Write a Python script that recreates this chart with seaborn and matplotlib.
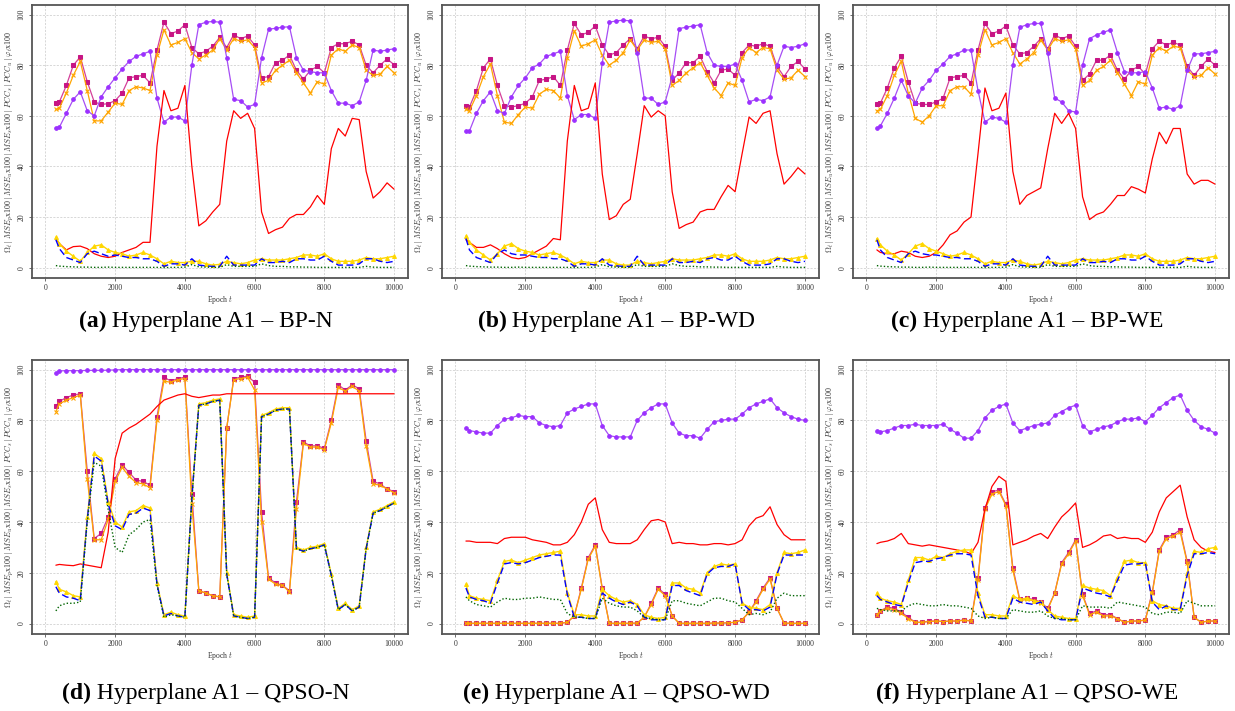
import numpy as np
import matplotlib
matplotlib.use("Agg")
import matplotlib.pyplot as plt
import seaborn as sns

# ---------------- data ----------------
epochs = [300] + list(range(400, 10001, 200))

# (a) BP-N
a_phi = [55.3, 55.5, 61, 66.5, 69.5, 62, 60, 67.5, 71.5, 75, 78.5, 81.5, 83.5, 84.5, 85.5, 67, 57.5, 59.5, 59.5, 58,
         80, 96, 97, 97.3, 97, 83, 66.5, 66, 63.5, 64.5, 83, 94.2, 94.6, 95, 95.2, 83, 78, 77.5, 77, 77,
         70, 65, 65, 64, 65.5, 74, 86, 85.5, 86, 86.5]
a_pcc_s = [65, 65.5, 72, 80, 83.3, 73.5, 65.5, 64.5, 64.8, 66, 69, 75, 75.5, 76, 73, 86, 97, 92.5, 93.5, 96,
           87, 84.5, 85.5, 87.5, 91, 87, 92, 90.5, 91.5, 88, 75, 75.5, 81, 82, 84, 78, 74.5, 78, 79.5, 77,
           87, 88.5, 88.5, 89.5, 88, 80, 77, 80, 82.5, 80.2]
a_pcc_u = [62.5, 63, 69, 76, 81.5, 70, 58, 58, 61.5, 65, 64.5, 70, 71.5, 71, 70, 84, 94, 88, 89, 90.5,
           85, 82.5, 84, 86, 90.5, 86, 90.5, 89.5, 90, 87, 73, 74, 78, 80, 82, 77, 73, 69, 73.5, 72.5,
           84, 86.5, 85.5, 88, 87, 78, 76, 76.5, 79.5, 77]
a_omega = [11.5, 9.5, 7, 8.3, 8.5, 7.5, 5.5, 4.5, 4, 4.5, 6, 7, 8, 10, 10, 48, 70, 62, 63, 72,
           40, 16.5, 18.5, 22, 25, 50, 62, 59, 61, 55, 22, 13.5, 15, 16, 19.5, 21, 21, 24, 28.5, 25,
           47, 55, 52, 59, 58.5, 38, 27.5, 30, 33.5, 31]
a_mse_t = [12, 9.5, 6.5, 4.5, 2.5, 6, 8.5, 9, 7, 6, 5.5, 4.5, 5, 6, 5, 3.5, 1.5, 2.5, 2, 2,
           2.5, 2.5, 1.5, 1, 1.3, 2.5, 2, 1.5, 2, 3, 3.5, 3, 3, 3, 3.5, 4, 5, 5, 4.5, 5.5,
           3.5, 2.5, 2.5, 2.5, 3, 4, 3.5, 3.5, 4, 4.5]
a_mse_u = [11, 7.5, 4, 3, 2, 5.5, 6.5, 5.5, 4.5, 5, 4.5, 4, 4, 3.5, 3.5, 2.5, 0.5, 1.5, 1.5, 1,
           3.5, 1, 0.7, 0.5, 0.5, 4.5, 1, 1, 1, 1, 3.5, 2, 2, 2.5, 2, 3.5, 3.5, 3, 3, 4.5,
           2.5, 1, 1, 1, 1.5, 3.5, 3.5, 2.5, 2, 2.5]
a_mse_p = [0.8, 0.6, 0.4, 0.3, 0.2, 0.2, 0.1, 0.1, 0.2, 0.1, 0.1, 0.1, 0.1, 0.1, 0.1, 0.1, 0, 0.1, 0.1, 0.2,
           1.2, 0.3, 0.2, 0.1, 0.1, 1.2, 0.5, 0.5, 0.5, 0.5, 1.5, 0.8, 0.5, 0.5, 0.3, 0.3, 0.2, 0.2, 0.1, 0.1,
           0.1, 0.1, 0.1, 0.1, 0.1, 0.5, 0.2, 0.1, 0.1, 0.1]

# (b) BP-WD
b_phi = [54, 54, 61, 66, 69.5, 62, 61, 67.5, 72, 75, 79, 80.5, 83.5, 84.5, 85.5, 68, 58.5, 60.5, 60.5, 59,
         81, 97, 97.5, 97.8, 97.5, 85, 67, 67, 64.5, 65.5, 75.5, 94.5, 95, 95.5, 96, 85, 80, 79.5, 79.5, 80.5,
         74, 65.5, 66.5, 66, 67.5, 80, 87.5, 87, 87.5, 88.5]
b_pcc_s = [64, 63.5, 70, 79, 82.5, 72, 64, 63.5, 64, 65, 67.5, 74, 74.5, 75.5, 72, 86, 96.5, 92, 93, 95.5,
           88, 84, 85, 88, 90.5, 86.5, 91.5, 90.5, 91, 87.5, 74, 77, 81, 81, 83.5, 77.5, 73, 78, 78.5, 76,
           85, 88, 87.5, 88.5, 87.5, 79.5, 75.5, 79.5, 81.5, 78.5]
b_pcc_u = [62.5, 62, 68, 75.5, 80.5, 68, 57.5, 57, 60.5, 63.5, 63, 68.5, 70.5, 70, 67, 83, 93.5, 87.5, 88.5, 90,
           84, 80, 82, 85, 90, 86, 90, 89, 89.5, 86.5, 72, 74, 77, 79, 81, 76, 71, 68, 73, 72,
           83, 87, 85, 87, 86.5, 78, 74.5, 75, 78, 75.5]
b_omega = [11, 10, 8, 8, 9, 7.5, 5.5, 4, 3.5, 4, 5.5, 7, 8.5, 11.5, 11, 50, 72, 62, 63, 73,
           37, 19, 20.5, 25, 27, 45, 64, 59.5, 62, 60, 30, 15.5, 17, 18, 22, 23, 23, 28, 32.5, 30,
           45, 59.5, 57, 61, 62, 45, 33, 36, 39.5, 37]
b_mse_t = [12.5, 10, 7, 5, 3, 5.5, 8.5, 9.5, 7.5, 6.5, 6, 5, 5.5, 6, 5, 3.5, 1.5, 2.5, 2, 2,
           3, 3, 1.5, 1, 1, 2.5, 2, 1.5, 2, 2.5, 3.5, 3, 3, 3, 3.5, 4, 5, 5, 4.5, 5.5,
           3.5, 2.5, 2.5, 2.5, 3, 4, 3.5, 3.5, 4, 4.5]
b_mse_u = [11.5, 7, 4, 3, 2, 5.5, 7, 5.5, 5, 5, 4.5, 4, 4, 3.5, 3.5, 2.5, 0.5, 1.5, 1.5, 1,
           3.5, 1, 0.7, 0.5, 0.5, 4.5, 1, 1, 1, 1, 3.5, 2, 2, 2.5, 2, 3.5, 4, 3, 3, 4.5,
           2.5, 1, 1, 1, 1.5, 3.5, 3.5, 2.5, 2, 2.5]
b_mse_p = [0.8, 0.6, 0.4, 0.3, 0.2, 0.2, 0.1, 0.1, 0.2, 0.1, 0.1, 0.1, 0.1, 0.1, 0.1, 0.1, 0, 0.1, 0.1, 0.2,
           1.2, 0.3, 0.2, 0.1, 0.1, 1.2, 0.5, 0.5, 0.5, 0.5, 1.5, 0.8, 0.5, 0.5, 0.3, 0.3, 0.2, 0.2, 0.1, 0.1,
           0.1, 0.1, 0.1, 0.1, 0.1, 0.5, 0.2, 0.1, 0.1, 0.1]

# (c) BP-WE
c_phi = [55, 56, 61, 67, 74, 68, 65, 71, 74, 78, 80.5, 83.5, 84.5, 86, 86, 70, 57.5, 59.5, 59, 57.5,
         80, 95, 96, 96.5, 96.5, 85, 67, 65.5, 62, 61.5, 80, 90.5, 92, 93, 94, 85, 77.5, 77, 77, 77.5,
         71, 63, 63.5, 62.5, 64, 78, 84.5, 84.5, 85, 85.5]
c_pcc_s = [64.5, 65, 71, 79, 83.5, 73.5, 65, 64.5, 64.5, 65.5, 67, 75, 75.5, 76, 73, 86, 96.5, 92.5, 93.5, 95.5,
           88, 84.5, 85, 87.5, 90.5, 86.5, 92, 90.5, 91.5, 87.5, 74, 76.5, 82, 82, 84, 78, 74.5, 78, 79.5, 76.5,
           86.5, 89.5, 88, 89, 88, 79.5, 76, 79.5, 82.5, 80]
c_pcc_u = [62, 62.5, 68, 76, 81.5, 69, 59, 57.5, 60, 64, 64, 70, 71.5, 71.5, 68.5, 84, 94, 88, 89, 90.5,
           85, 80.5, 82.5, 85, 90, 86, 90.5, 89.5, 90, 86.5, 72, 74, 78, 79.5, 82, 77, 72.5, 68, 73.5, 72.5,
           84, 87, 85.5, 87.5, 87, 78, 75.5, 76, 79, 76.5]
c_omega = [7, 6, 5.5, 5.5, 6.5, 6, 4.5, 4, 4.5, 6, 9, 13, 14.5, 18, 20, 45, 71, 62, 63, 69,
           38, 25, 28.5, 30, 31.5, 47, 61, 57, 61, 55, 28, 19, 21, 22, 25, 28.5, 28.5, 32, 31, 29.5,
           43, 53.5, 49, 55, 55, 37, 33, 34.5, 34.5, 33]
c_mse_t = [11.5, 9, 6.5, 5, 3, 5.5, 8.5, 9.5, 7.5, 6.5, 5.5, 4.5, 5, 6, 5, 3.5, 1.5, 2.5, 2, 2,
           3, 2.5, 1.5, 1, 1.5, 2.5, 2, 1.5, 2, 3, 3.5, 3, 3, 3, 3.5, 4, 5, 5, 4.5, 5.5,
           3.5, 2.5, 2.5, 2.5, 3, 4, 3.5, 3.5, 4, 4.5]
c_mse_u = [11, 7, 4, 3, 2, 5.5, 6.5, 5.5, 5, 5, 4.5, 4, 4, 3.5, 3.5, 2.5, 0.5, 1.5, 1.5, 1,
           3.5, 1, 0.7, 0.5, 0.5, 4.5, 1, 1, 1, 1, 3.5, 2, 2, 2.5, 2, 3.5, 3.5, 3, 3, 4.5,
           2.5, 1, 1, 1, 1.5, 3.5, 3.5, 2.5, 2, 2.5]
c_mse_p = [0.8, 0.6, 0.4, 0.3, 0.2, 0.2, 0.1, 0.1, 0.2, 0.1, 0.1, 0.1, 0.1, 0.1, 0.1, 0.1, 0, 0.1, 0.1, 0.2,
           1.2, 0.3, 0.2, 0.1, 0.1, 1.2, 0.5, 0.5, 0.5, 0.5, 1.5, 0.8, 0.5, 0.5, 0.3, 0.3, 0.2, 0.2, 0.1, 0.1,
           0.1, 0.1, 0.1, 0.1, 0.1, 0.5, 0.2, 0.1, 0.1, 0.1]

# (d) QPSO-N
d_phi = [98.5, 99.5, 99.6, 99.6, 99.6, 99.7, 99.7, 99.7, 99.8, 99.9, 100, 100, 100, 100, 100, 100, 100, 100, 100, 100,
         100, 100, 100, 100, 100, 100, 100, 100, 100, 100, 100, 100, 100, 100, 100, 100, 100, 100, 100, 100,
         100, 100, 100, 100, 100, 100, 100, 100, 100, 100]
d_pcc_s = [85.5, 87.5, 89, 90, 90.5, 60, 33.5, 35.5, 42, 57, 62.5, 59.5, 56.5, 56, 54.5, 81.5, 97, 95.5, 96.5, 97,
           51, 13, 12, 11, 10.5, 77, 96.5, 97, 97.5, 95, 44, 18, 16, 15, 13, 48, 71.5, 70, 70, 69,
           80, 94, 92, 94, 92.5, 72, 56, 55, 53, 52]
d_pcc_u = [83.5, 86.5, 88, 89, 90, 57, 33, 33, 41, 56, 61.5, 58, 55.5, 55, 53.5, 80, 95.5, 95, 96, 96.5,
           47, 13, 12, 11, 10.5, 77, 96, 96.5, 97, 92, 40, 17.5, 15.5, 15, 12.5, 45, 71, 69.5, 69.5, 68.5,
           79, 93, 91.5, 93.5, 91.5, 70, 55, 54.5, 53, 51.5]
d_omega = [23, 23.3, 23, 22.8, 23.5, 23, 22.5, 22, 36, 65, 75, 77, 78.5, 80.5, 82.5, 85.5, 88, 89, 90, 90.5,
           89.5, 89, 89.5, 90, 90, 90.5, 90.5, 90.5, 90.5, 90.5, 90.5, 90.5, 90.5, 90.5, 90.5, 90.5, 90.5, 90.5, 90.5, 90.5,
           90.5, 90.5, 90.5, 90.5, 90.5, 90.5, 90.5, 90.5, 90.5, 90.5]
d_mse_t = [16.5, 13.5, 12.5, 11, 10.5, 42, 67, 65, 48, 40, 38, 44, 44.5, 46.5, 45.5, 16, 3.5, 4.5, 3.5, 3,
           50, 86.5, 87, 88, 88.5, 20, 3.5, 3, 2.5, 3, 82, 83, 84.5, 85, 85, 30, 29, 30, 30.5, 31.5,
           19.5, 6, 8, 5.5, 7, 30, 44, 45, 46.5, 48]
d_mse_u = [14.5, 12, 10.5, 10, 9, 41, 66, 64, 47, 38.5, 37, 43, 43.5, 45.5, 44.5, 15.5, 3, 4, 3, 2.5,
           49.5, 86, 86.5, 87.5, 88, 19.5, 3, 2.5, 2, 2.5, 81.5, 82.5, 84, 84.5, 84.5, 29.5, 28.5, 29.5, 30, 31,
           19, 5.5, 7.5, 5, 6.5, 29.5, 43.5, 44.5, 46, 47.5]
d_mse_p = [5, 7, 8, 8, 8.5, 40, 63.5, 62, 45, 30, 28, 35, 37, 40, 41, 15, 2.5, 3.5, 3, 2.5,
           49, 86, 86.5, 87.5, 88, 19.5, 3, 2.5, 2, 2.5, 81.5, 82.5, 84, 84.5, 84.5, 29.5, 28.5, 29.5, 30, 31,
           19, 5.5, 7.5, 5, 6.5, 29.5, 43.5, 44.5, 46, 47.5]

# (e) QPSO-WD
e_phi = [77, 76, 75.5, 75, 75, 78, 80.5, 81, 82, 81.5, 81.5, 79, 78, 77.5, 78, 83, 84.5, 85.5, 86.5, 86.5,
         78, 74, 73.5, 73.5, 73.5, 80, 83, 85, 86.5, 86.5, 79, 75, 74, 74, 73, 76.5, 79.5, 80, 80.5, 80.5,
         82.5, 85, 86.5, 87.5, 88.5, 85, 83, 81.5, 80.5, 80]
e_pcc_s = [0.1, 0.1, 0.1, 0.1, 0.1, 0.1, 0.1, 0.1, 0.1, 0.1, 0.1, 0.1, 0.1, 0.1, 0.1, 0.5, 3, 14, 26, 31,
           14, 0.1, 0.1, 0.1, 0.1, 0.2, 2.5, 8, 14, 11.5, 3, 0.1, 0.1, 0.1, 0.1, 0.1, 0.2, 0.2, 0.3, 0.5,
           1.5, 4.5, 9, 14, 18, 6, 0.2, 0.1, 0.1, 0.1]
e_pcc_u = [0.1, 0.1, 0.1, 0.1, 0.1, 0.1, 0.1, 0.1, 0.1, 0.1, 0.1, 0.1, 0.1, 0.1, 0.1, 0.5, 3, 13.5, 25.5, 30.5,
           13.5, 0.1, 0.1, 0.1, 0.1, 0.2, 2.5, 7.5, 13.5, 11, 3, 0.1, 0.1, 0.1, 0.1, 0.1, 0.2, 0.2, 0.3, 0.5,
           1.5, 4.5, 8.5, 13.5, 17.5, 6, 0.2, 0.1, 0.1, 0.1]
e_omega = [32.5, 32.5, 32, 32, 32, 31.5, 33.5, 34, 34, 34, 33, 32.5, 32, 31, 31, 32, 35, 40, 47, 49.5,
           37, 32, 31.5, 31.5, 31.5, 33, 37, 40.5, 41, 40, 31.5, 32, 31.5, 31.5, 31, 31, 31.5, 31.5, 31, 31.5,
           33, 38.5, 41.5, 42.5, 46, 39, 35, 33, 33, 33]
e_mse_t = [15.5, 11, 10, 9.5, 9, 17, 24.5, 25, 24, 25, 26, 27, 27.5, 28, 28.5, 12, 3.5, 3.5, 3, 3,
           13.5, 11, 9.5, 8.5, 9, 7.5, 3.5, 2.5, 2, 2.5, 16, 16, 14, 13.5, 12, 20, 22.5, 23.5, 23, 23.5,
           8, 6.5, 6, 5.5, 7.5, 20, 28, 27.5, 28, 29]
e_mse_u = [14, 10.5, 9.5, 9, 8, 16, 23.5, 24, 23.5, 24, 25, 26, 26.5, 27, 27, 11.5, 2.5, 2.5, 2, 2,
           12, 10, 8.5, 7.5, 8.5, 7, 2.5, 1.5, 1.5, 1.5, 15, 15, 13, 12, 11, 19.5, 22, 22.5, 22.5, 23.5,
           8, 5.5, 5.5, 5, 6.5, 19.5, 27, 27, 27, 27]
e_mse_p = [10.5, 9, 7.5, 7, 6.5, 8.5, 10, 9.5, 9.5, 10, 10, 10.5, 10, 9.5, 9.5, 4, 2.5, 2.5, 2, 2,
           10, 8, 7, 6.5, 6.5, 5, 2.5, 2, 1.5, 1.5, 9, 9, 8, 7.5, 7, 8.5, 10, 10, 9, 8.5,
           6, 3.5, 4, 3.5, 4.5, 10, 12, 11, 11, 11]

# (f) QPSO-WE
f_phi = [76, 75.5, 76, 77, 78, 78, 78.5, 78, 78, 78, 78.5, 76.5, 75, 73, 73, 76, 81, 84, 85.5, 86.5,
         79, 76, 77, 78, 78.5, 79, 82, 83.5, 85, 86, 78, 75.5, 76.5, 77.5, 78, 79.5, 80.5, 80.5, 81, 79.5,
         82, 85, 87, 89, 90, 84, 80, 77.5, 76.5, 75]
f_pcc_s = [3.5, 5, 6.5, 6, 4.5, 2.5, 0.5, 0.5, 1, 1, 0.8, 1, 1, 1.5, 1, 18, 45.5, 52, 52.5, 47,
           22, 9.5, 10, 9.5, 8.5, 6, 12, 24, 28, 33, 11.5, 4, 5, 3.5, 3.5, 2, 0.5, 1, 1, 1.5,
           12.5, 29, 34, 35, 37, 24.5, 2.5, 0.5, 1, 1]
f_pcc_u = [3.5, 5, 6, 5.5, 4, 2, 0.5, 0.5, 0.8, 1, 0.8, 1, 1, 1.3, 1, 17, 45, 51, 52, 46.5,
           21, 9, 9.5, 9, 8, 5.5, 12, 23.5, 27.5, 32.5, 11, 3.5, 4.5, 3, 3, 2, 0.5, 1, 1, 1.3,
           12, 28.5, 33.5, 34.5, 36, 24, 2.5, 0.5, 1, 1]
f_omega = [31.5, 32, 32.5, 33.5, 35.5, 31.5, 31, 30.5, 31, 30.5, 30, 29.5, 29, 28.5, 27.5, 32, 45, 54, 58, 56,
           31, 32, 33, 34.5, 35.5, 33.5, 38, 42, 44.5, 47.5, 30, 31, 32.5, 34.5, 35, 33.5, 34, 33.5, 33.5, 32,
           36, 44, 49.5, 52, 54.5, 42, 33, 30, 28.5, 28]
f_mse_t = [12, 10, 9, 8.5, 7.5, 17, 26, 26, 25, 26.5, 26, 27.5, 28.5, 29, 29, 12, 3.5, 3.5, 3, 3,
           11, 9.5, 10, 9, 8.5, 5.5, 3, 2.5, 2, 2, 15, 14, 13.5, 13, 11, 18, 24.5, 25, 24, 24,
           9, 7.5, 7, 6, 6, 20, 28.5, 28, 29.5, 30]
f_mse_u = [11, 9.5, 8.5, 7.5, 7, 16, 24, 24.5, 24.5, 25.5, 26, 27, 27.5, 27.5, 27, 11, 2.5, 2.5, 2, 2,
           10, 8.5, 8, 7.5, 8.5, 5, 2, 1.5, 1.5, 1.5, 14, 13, 12, 11.5, 10.5, 17, 23, 23.5, 23.5, 24,
           8.5, 5.5, 7, 5.5, 5.5, 19, 27.5, 27.5, 28, 27.5]
f_mse_p = [6, 5.5, 5, 5, 5, 7, 8, 7.5, 7, 7, 7.5, 7, 7, 6.5, 6, 3, 2, 2.5, 2, 2,
           5.5, 5, 4.5, 4.5, 5, 3, 2, 2, 1.5, 1.5, 7, 6.5, 6.5, 6.5, 6, 8.5, 8, 7.5, 7, 6.5,
           4, 3.5, 4.5, 4.5, 4, 9, 8, 7, 7, 7]

captions = ["(a)", "(b)", "(c)", "(d)", "(e)", "(f)"]
caption_texts = [" Hyperplane A1 \u2013 BP-N", " Hyperplane A1 \u2013 BP-WD", " Hyperplane A1 \u2013 BP-WE",
                 " Hyperplane A1 \u2013 QPSO-N", " Hyperplane A1 \u2013 QPSO-WD", " Hyperplane A1 \u2013 QPSO-WE"]
x_ticks = [0, 2000, 4000, 6000, 8000, 10000]
y_ticks = [0, 20, 40, 60, 80, 100]
y_label = (r"$\Omega_t$ | $MSE_p$x100 | $MSE_u$x100 | $MSE_s$x100 | "
           r"$PCC_s$ | $PCC_u$ | $\varphi_t$x100")
x_label = r"Epoch $t$"

panels = [
    (a_phi, a_pcc_s, a_pcc_u, a_omega, a_mse_t, a_mse_u, a_mse_p),
    (b_phi, b_pcc_s, b_pcc_u, b_omega, b_mse_t, b_mse_u, b_mse_p),
    (c_phi, c_pcc_s, c_pcc_u, c_omega, c_mse_t, c_mse_u, c_mse_p),
    (d_phi, d_pcc_s, d_pcc_u, d_omega, d_mse_t, d_mse_u, d_mse_p),
    (e_phi, e_pcc_s, e_pcc_u, e_omega, e_mse_t, e_mse_u, e_mse_p),
    (f_phi, f_pcc_s, f_pcc_u, f_omega, f_mse_t, f_mse_u, f_mse_p),
]

# ---------------- style ----------------
sns.set_theme(style="white")
plt.rcParams["font.family"] = ["Liberation Serif", "DejaVu Serif"]
plt.rcParams["mathtext.fontset"] = "cm"

W, H = 1235, 711
fig = plt.figure(figsize=(W / 100, H / 100), dpi=100)
fig.patch.set_facecolor("white")

lefts = [32, 442, 853]
widths = [376, 377, 376]
tops = [5, 360]
heights = [273, 274]
cap_base = [327, 699]

for k, series in enumerate(panels):
    row, col = divmod(k, 3)
    l, w = lefts[col], widths[col]
    t, h = tops[row], heights[row]
    ax = fig.add_axes([l / W, 1 - (t + h) / H, w / W, h / H])
    phi, pcc_s, pcc_u, omega, mse_t, mse_u, mse_p = series

    sns.lineplot(x=epochs, y=pcc_s, ax=ax, color="#D4409A", linewidth=0.9, marker="s",
                 markersize=3.2, markerfacecolor="#C71585", markeredgecolor="#C71585", zorder=3)
    sns.lineplot(x=epochs, y=pcc_u, ax=ax, color="#FFA500", linewidth=0.9, marker="x",
                 markersize=3.0, markeredgewidth=0.8, markeredgecolor="#FFA500", zorder=4)
    sns.lineplot(x=epochs, y=phi, ax=ax, color="#A64DF5", linewidth=0.9, marker="o",
                 markersize=2.6, markerfacecolor="#9B30FF", markeredgecolor="#9B30FF", zorder=5)
    sns.lineplot(x=epochs, y=omega, ax=ax, color="#FF0000", linewidth=0.9, zorder=6)
    sns.lineplot(x=epochs, y=mse_t, ax=ax, color="#FFD700", linewidth=1.0, marker="^",
                 markersize=2.8, markerfacecolor="#FFD700", markeredgecolor="#FFD700", zorder=7)
    sns.lineplot(x=epochs, y=mse_u, ax=ax, color="#0000FF", linewidth=1.0, linestyle=(0, (5, 2.5)), zorder=8)
    sns.lineplot(x=epochs, y=mse_p, ax=ax, color="#006400", linewidth=1.0, linestyle=(0, (1, 1.5)), zorder=9)

    ax.set_xlim(-385, 10400)
    ax.set_ylim(-4.1, 103.8)
    ax.set_xticks(x_ticks)
    ax.set_yticks(y_ticks)
    ax.set_xticklabels([str(v) for v in x_ticks])
    ax.set_yticklabels([str(v) for v in y_ticks], rotation=90, va="center")
    ax.tick_params(axis="both", which="major", labelsize=5.5, length=2.5, width=0.5,
                   direction="out", pad=2, colors="#333333", bottom=True, left=True)
    ax.set_axisbelow(True)
    ax.grid(True, linestyle=(0, (3, 2)), color="#C8C8C8", linewidth=0.5)
    for sp in ax.spines.values():
        sp.set_color("#555555")
        sp.set_linewidth(1.3)
    ax.set_xlabel(x_label, fontsize=5.5, labelpad=1.5, color="#333333")
    ax.set_ylabel(y_label, fontsize=5.8, labelpad=2, color="#333333")
    ax.set_facecolor("white")

    cx = (l + w / 2 - 14) / W
    cy = 1 - cap_base[row] / H
    tb = fig.text(cx, cy, captions[k], ha="left", va="baseline", fontsize=17,
                  fontweight="bold", color="black")
    tn = fig.text(cx, cy, caption_texts[k], ha="left", va="baseline", fontsize=17, color="black")
    fig.canvas.draw()
    r = fig.canvas.get_renderer()
    wb = tb.get_window_extent(r).width
    wn = tn.get_window_extent(r).width
    start = cx * W - (wb + wn) / 2
    tb.set_x(start / W)
    tn.set_x((start + wb) / W)

fig.savefig("out.png", dpi=100, facecolor="white")
